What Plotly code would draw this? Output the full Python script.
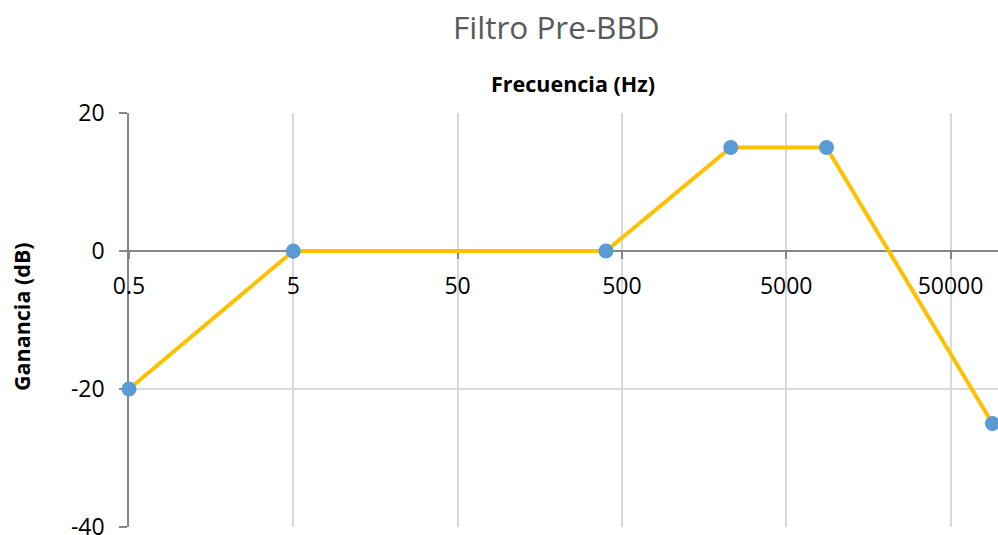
import math
import plotly.graph_objects as go

# Data
freq_hz = [0.5, 5, 400, 2300, 8800, 90000]
gain_db = [-20, 0, 0, 15, 15, -25]
x_tick_vals = [0.5, 5, 50, 500, 5000, 50000]
x_tick_text = ["0.5", "5", "50", "500", "5000", "50000"]
y_tick_vals = [-40, -20, 0, 20]
y_tick_text = ["-40", "-20", "0", "20"]

W, H = 998, 535
ML, MR, MT, MB = 129, 0, 113, 8
decade_px = 164.3
plot_w = W - ML - MR
xmin = math.log10(0.5)
xmax = xmin + plot_w / decade_px

fig = go.Figure()
fig.add_trace(go.Scatter(
    x=freq_hz, y=gain_db, mode="lines+markers",
    line=dict(color="#FFC000", width=4),
    marker=dict(color="#5B9BD5", size=15),
    cliponaxis=False, showlegend=False,
))

axis_gray = "#868686"
grid = "#D9D9D9"
tick_font = dict(family="Open Sans", size=23, color="#000000")

fig.update_layout(
    width=W, height=H,
    margin=dict(l=ML, r=MR, t=MT, b=MB, pad=0, autoexpand=False),
    paper_bgcolor="white", plot_bgcolor="white",
    xaxis=dict(
        type="log", range=[xmin, xmax],
        tickvals=x_tick_vals, ticktext=x_tick_text,
        showgrid=True, gridcolor=grid, gridwidth=1.5,
        showline=True, linecolor=axis_gray, linewidth=1.5,
        ticks="outside", ticklen=7, tickcolor=axis_gray, tickwidth=1.5,
        tickfont=tick_font, anchor="free", position=2/3,
        layer="below traces", zeroline=False, ticklabelstandoff=8,
        ticklabeloverflow="allow", automargin=False,
    ),
    yaxis=dict(
        range=[-40, 20], tickvals=y_tick_vals, ticktext=y_tick_text,
        showgrid=True, gridcolor=grid, gridwidth=1.5,
        showline=True, linecolor=axis_gray, linewidth=1.5,
        ticks="outside", ticklen=8, tickcolor=axis_gray, tickwidth=1.5,
        tickfont=tick_font, zeroline=False, layer="below traces",
        ticklabelstandoff=10, ticklabeloverflow="allow", automargin=False,
    ),
    font=dict(family="Open Sans"),
)

fig.add_annotation(
    text="Filtro Pre-BBD", xref="paper", yref="paper",
    x=(556 - ML) / plot_w, y=1 + (MT - 27) / (H - MT - MB),
    xanchor="center", yanchor="middle", showarrow=False,
    font=dict(family="Open Sans", size=31.5, color="#595959"),
)
fig.add_annotation(
    text="<b>Frecuencia (Hz)</b>", xref="paper", yref="paper",
    x=(573 - ML) / plot_w, y=1 + (MT - 84) / (H - MT - MB),
    xanchor="center", yanchor="middle", showarrow=False,
    font=dict(family="Open Sans", size=21.5, color="#000000"),
)
fig.add_annotation(
    text="<b>Ganancia (dB)</b>", xref="paper", yref="paper",
    x=(21 - ML) / plot_w, y=(H - MB - 317) / (H - MT - MB),
    xanchor="center", yanchor="middle", textangle=-90, showarrow=False,
    font=dict(family="Open Sans", size=21.5, color="#000000"),
)

fig.write_html(
    "out.html",
    config={"displayModeBar": False},
    post_script="document.body.style.margin='0';document.body.style.overflow='hidden';",
)
